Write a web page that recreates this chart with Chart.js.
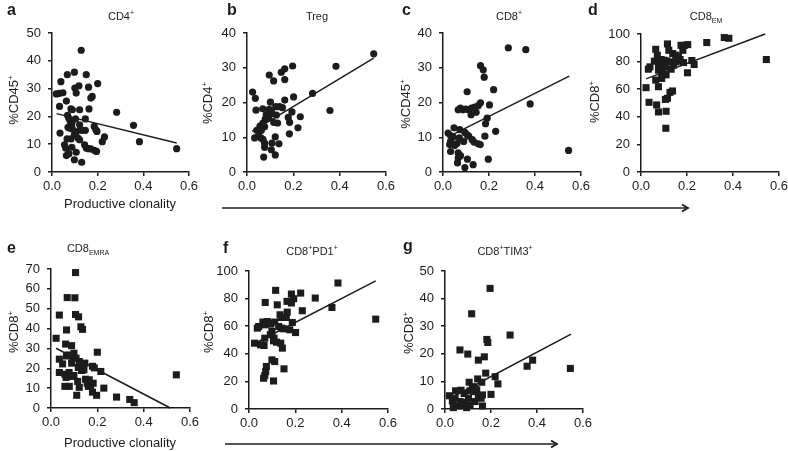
<!DOCTYPE html>
<html>
<head>
<meta charset="utf-8">
<script src="https://cdn.jsdelivr.net/npm/chart.js@4.4.1/dist/chart.umd.min.js"></script>
<style>
html, body { margin: 0; padding: 0; background: #fff; overflow: hidden; width: 788px; height: 451px; }
canvas { position: absolute; left: 0; top: 0; }
</style>
</head>
<body>
<canvas id="pa" width="800" height="451"></canvas>
<canvas id="pb" width="800" height="451"></canvas>
<canvas id="pc" width="800" height="451"></canvas>
<canvas id="pd" width="800" height="451"></canvas>
<canvas id="pe" width="800" height="451"></canvas>
<canvas id="pf" width="800" height="451"></canvas>
<canvas id="pg" width="800" height="451"></canvas>
<script>
// productive clonality tick labels, shared by every panel
const xTicks = [0, 0.2, 0.4, 0.6];

// a - CD4+ (%CD45+)
const aX = [0.128, 0.039, 0.019, 0.033, 0.048, 0.067, 0.098, 0.150, 0.118, 0.100, 0.200, 0.160, 0.176, 0.170, 0.106, 0.063,
  0.033, 0.083, 0.089, 0.121, 0.162, 0.283, 0.068, 0.073, 0.103, 0.146, 0.080, 0.087, 0.121, 0.070, 0.077, 0.089,
  0.185, 0.192, 0.357, 0.131, 0.146, 0.106, 0.124, 0.035, 0.098, 0.197, 0.066, 0.083, 0.114, 0.121, 0.230, 0.220,
  0.383, 0.055, 0.060, 0.143, 0.087, 0.150, 0.160, 0.170, 0.185, 0.195, 0.546, 0.074, 0.063, 0.106, 0.098, 0.130];
const aY = [43.8, 32.5, 28.1, 28.3, 28.5, 35.0, 35.9, 35.0, 31.0, 30.2, 31.8, 30.5, 27.2, 26.6, 28.4, 25.5,
  23.6, 22.7, 22.4, 22.4, 22.7, 21.5, 20.4, 19.4, 19.1, 19.1, 18.2, 17.4, 17.0, 16.1, 15.8, 15.5,
  16.4, 15.2, 16.8, 15.0, 15.0, 14.4, 15.2, 14.0, 13.4, 14.6, 11.9, 11.9, 12.2, 11.6, 12.6, 10.9,
  10.9, 9.8, 8.6, 9.8, 8.9, 8.6, 8.4, 8.3, 7.8, 7.4, 8.4, 6.6, 5.9, 7.1, 4.4, 3.5];
const aFitX = [0.02, 0.546];
const aFitY = [21.0, 10.4];
const aYTicks = [0, 10, 20, 30, 40, 50];

// b - Treg (%CD4+)
const bX = [0.547, 0.384, 0.197, 0.163, 0.148, 0.096, 0.163, 0.115, 0.283, 0.024, 0.036, 0.201, 0.163, 0.101, 0.124, 0.141,
  0.153, 0.039, 0.068, 0.096, 0.105, 0.358, 0.194, 0.083, 0.094, 0.108, 0.127, 0.079, 0.091, 0.178, 0.230, 0.115,
  0.132, 0.184, 0.056, 0.065, 0.076, 0.042, 0.062, 0.069, 0.220, 0.183, 0.050, 0.060, 0.069, 0.033, 0.122, 0.108,
  0.138, 0.076, 0.076, 0.105, 0.122, 0.072];
const bY = [34.0, 30.4, 30.5, 29.7, 28.7, 27.9, 26.6, 26.2, 22.6, 23.0, 21.2, 21.6, 20.7, 20.1, 18.8, 18.8,
  18.5, 17.8, 18.2, 18.0, 17.5, 17.7, 17.3, 16.5, 16.0, 16.8, 16.4, 15.3, 15.5, 15.7, 15.9, 14.3,
  14.1, 14.3, 13.2, 12.7, 13.0, 12.0, 12.0, 14.1, 12.7, 11.0, 10.3, 9.8, 9.4, 9.8, 10.1, 8.3,
  8.1, 8.3, 7.1, 6.4, 4.9, 4.3];
const bFitX = [0.022, 0.547];
const bFitY = [11.7, 32.8];
const bYTicks = [0, 10, 20, 30, 40];

// c - CD8+ (%CD45+)
const cX = [0.284, 0.360, 0.163, 0.175, 0.179, 0.105, 0.220, 0.379, 0.202, 0.066, 0.076, 0.087, 0.099, 0.112, 0.124, 0.138,
  0.153, 0.163, 0.122, 0.144, 0.192, 0.185, 0.048, 0.022, 0.073, 0.229, 0.095, 0.105, 0.112, 0.033, 0.044, 0.071,
  0.127, 0.135, 0.153, 0.090, 0.033, 0.029, 0.061, 0.051, 0.162, 0.182, 0.033, 0.066, 0.076, 0.066, 0.063, 0.106,
  0.197, 0.131, 0.095, 0.546];
const cY = [35.7, 35.2, 30.6, 29.4, 27.3, 23.1, 23.7, 19.6, 19.3, 17.9, 18.4, 17.9, 18.1, 17.9, 18.4, 18.7,
  19.1, 19.9, 16.5, 17.2, 15.5, 13.9, 12.7, 11.2, 12.2, 11.7, 11.4, 10.7, 10.3, 10.5, 10.1, 9.8,
  9.3, 8.6, 8.1, 8.8, 8.8, 7.9, 8.2, 7.6, 7.9, 10.3, 5.9, 5.5, 4.7, 4.0, 2.6, 3.7,
  3.7, 2.1, 1.3, 6.2];
const cFitX = [0.022, 0.549];
const cFitY = [10.1, 27.6];
const cYTicks = [0, 10, 20, 30, 40];

// d - CD8 EM (%CD8+)
const dX = [0.362, 0.382, 0.286, 0.189, 0.203, 0.174, 0.115, 0.064, 0.121, 0.138, 0.182, 0.071, 0.151, 0.163, 0.087, 0.100,
  0.112, 0.126, 0.221, 0.545, 0.185, 0.058, 0.076, 0.039, 0.032, 0.090, 0.105, 0.141, 0.153, 0.231, 0.131, 0.076,
  0.092, 0.202, 0.109, 0.090, 0.064, 0.022, 0.076, 0.137, 0.126, 0.115, 0.106, 0.035, 0.068, 0.076, 0.109, 0.108,
  0.155, 0.170];
const dY = [97.4, 96.9, 93.8, 91.8, 92.3, 91.8, 92.8, 88.9, 88.2, 85.8, 88.2, 84.6, 84.6, 83.4, 81.5, 81.0,
  80.5, 79.8, 80.8, 81.5, 79.3, 80.3, 78.6, 76.2, 74.5, 77.4, 76.2, 77.4, 79.8, 77.9, 74.5, 73.8,
  72.4, 71.9, 70.4, 67.8, 66.6, 61.1, 61.8, 58.7, 57.7, 53.4, 52.6, 50.5, 48.6, 43.5, 44.0, 31.7,
  81.0, 81.5];
const dFitX = [0.022, 0.54];
const dFitY = [67.5, 100];
const dYTicks = [0, 20, 40, 60, 80, 100];

// e - CD8 EMRA (%CD8+)
const eX = [0.106, 0.070, 0.103, 0.036, 0.106, 0.119, 0.129, 0.136, 0.067, 0.022, 0.063, 0.089, 0.200, 0.099, 0.075, 0.067,
  0.096, 0.108, 0.036, 0.122, 0.146, 0.139, 0.050, 0.089, 0.118, 0.179, 0.187, 0.036, 0.215, 0.060, 0.078, 0.132,
  0.142, 0.541, 0.099, 0.085, 0.065, 0.149, 0.165, 0.156, 0.115, 0.171, 0.161, 0.182, 0.060, 0.079, 0.122, 0.179,
  0.197, 0.228, 0.111, 0.283, 0.340, 0.359];
const eY = [68.2, 55.6, 55.5, 46.8, 47.1, 45.9, 40.9, 39.6, 39.3, 35.1, 32.2, 31.4, 28.1, 27.6, 26.7, 26.2,
  25.9, 25.1, 24.6, 23.4, 22.6, 22.1, 22.2, 22.6, 20.4, 21.0, 20.2, 17.9, 18.4, 17.0, 17.9, 18.9,
  19.2, 16.7, 16.4, 15.9, 15.4, 14.5, 14.2, 12.5, 13.4, 11.4, 10.9, 12.5, 10.9, 10.9, 10.4, 8.0,
  6.4, 10.0, 6.4, 5.5, 4.3, 2.7];
const eFitX = [0.022, 0.515];
const eFitY = [30.1, 0];
const eYTicks = [0, 10, 20, 30, 40, 50, 60, 70];

// f - CD8+PD1+ (%CD8+)
const fX = [0.384, 0.115, 0.223, 0.070, 0.183, 0.193, 0.183, 0.164, 0.286, 0.122, 0.230, 0.165, 0.161, 0.134, 0.140, 0.358,
  0.547, 0.060, 0.079, 0.089, 0.036, 0.042, 0.070, 0.094, 0.111, 0.187, 0.128, 0.140, 0.150, 0.176, 0.201, 0.099,
  0.092, 0.108, 0.068, 0.024, 0.050, 0.065, 0.106, 0.119, 0.137, 0.144, 0.099, 0.111, 0.151, 0.075, 0.072, 0.068,
  0.063, 0.106];
const fY = [91.3, 86.0, 84.0, 77.2, 83.3, 79.9, 76.8, 78.0, 80.4, 75.5, 71.2, 70.2, 66.3, 68.3, 66.3, 73.6,
  65.1, 63.0, 63.4, 62.2, 58.6, 59.8, 61.0, 61.5, 63.0, 62.7, 59.8, 58.6, 58.1, 57.4, 55.4, 56.2,
  53.8, 51.3, 51.3, 47.7, 46.5, 46.0, 49.4, 48.4, 47.7, 44.1, 35.6, 34.4, 29.1, 30.8, 27.1, 24.2,
  22.3, 20.3];
const fFitX = [0.022, 0.547];
const fFitY = [47.3, 92.8];
const fYTicks = [0, 20, 40, 60, 80, 100];

// g - CD8+TIM3+ (%CD8+)
const gX = [0.196, 0.116, 0.283, 0.182, 0.186, 0.065, 0.099, 0.171, 0.145, 0.381, 0.357, 0.545, 0.177, 0.218, 0.230, 0.142,
  0.160, 0.105, 0.200, 0.119, 0.131, 0.109, 0.126, 0.138, 0.019, 0.046, 0.070, 0.083, 0.032, 0.044, 0.065, 0.087,
  0.102, 0.145, 0.157, 0.163, 0.036, 0.058, 0.076, 0.094, 0.109, 0.163, 0.131];
const gY = [43.7, 34.5, 26.8, 25.2, 24.1, 21.4, 19.9, 18.9, 17.7, 17.7, 15.5, 14.7, 13.0, 11.7, 9.1, 10.9,
  9.7, 9.7, 5.3, 8.1, 7.5, 6.6, 6.3, 6.9, 4.8, 6.6, 6.8, 5.6, 2.9, 3.9, 2.7, 2.4,
  3.9, 4.5, 3.9, 5.1, 0.5, 1.1, 1.4, 0.5, 1.4, 1.1, 2.7];
const gFitX = [0.022, 0.548];
const gFitY = [3.9, 27.1];
const gYTicks = [0, 10, 20, 30, 40, 50];

const FONT = '"Liberation Sans", Arial, Helvetica, sans-serif';
const INK = '#1c1c1c';
const YW = 45;   // fixed y axis width
const XH = 25;   // fixed x axis height

function pts(xs, ys) {
  return xs.map((x, i) => ({ x: x, y: ys[i] }));
}

function segFont(size, mode) {
  return (mode ? Math.round(size * 0.65) : size) + 'px ' + FONT;
}

function richWidth(ctx, segs, size) {
  let w = 0;
  segs.forEach(s => { ctx.font = segFont(size, s[1]); w += ctx.measureText(s[0]).width; });
  return w;
}

function drawRich(ctx, segs, x, y, size) {
  let cx = x - richWidth(ctx, segs, size) / 2;
  segs.forEach(s => {
    ctx.font = segFont(size, s[1]);
    let dy = 0;
    if (s[1] === 'sup') dy = -size * 0.42;
    if (s[1] === 'sub') dy = size * 0.25;
    ctx.fillText(s[0], cx, y + dy);
    cx += ctx.measureText(s[0]).width;
  });
}

const annot = {
  id: 'annot',
  afterDraw(chart, args, o) {
    const ctx = chart.ctx;
    ctx.save();
    ctx.fillStyle = INK;
    ctx.strokeStyle = INK;
    ctx.textBaseline = 'alphabetic';
    ctx.textAlign = 'left';
    // panel letter
    ctx.font = 'bold 16px ' + FONT;
    ctx.fillText(o.letter, o.lx, o.ly);
    // title
    drawRich(ctx, o.title, o.tx, o.ty, 11);
    // y label
    ctx.save();
    ctx.translate(o.yx, o.yy);
    ctx.rotate(-Math.PI / 2);
    drawRich(ctx, o.ylab, 0, 0, 13);
    ctx.restore();
    // x label
    if (o.xlab) {
      drawRich(ctx, [['Productive clonality']], o.xlab[0], o.xlab[1], 13);
    }
    // arrow
    if (o.arrow) {
      const [x0, x1, y] = o.arrow;
      ctx.lineWidth = 1.6;
      ctx.beginPath();
      ctx.moveTo(x0, y);
      ctx.lineTo(x1 - 2, y);
      ctx.stroke();
      ctx.beginPath();
      ctx.moveTo(x1 - 6, y - 3.5);
      ctx.lineTo(x1, y);
      ctx.lineTo(x1 - 6, y + 3.5);
      ctx.lineWidth = 1.8;
      ctx.stroke();
    }
    ctx.restore();
  }
};

function makePanel(id, box, xs, ys, fitX, fitY, yTicks, shape, text) {
  const x0 = box[0], x1 = box[1], yT = box[2], yB = box[3];
  new Chart(document.getElementById(id), {
    type: 'scatter',
    data: {
      datasets: [
        {
          data: pts(xs, ys),
          pointStyle: shape,
          pointRadius: shape === 'rect' ? 5 : 3.6,
          backgroundColor: INK,
          borderWidth: 0,
          clip: false
        },
        {
          data: pts(fitX, fitY),
          showLine: true,
          borderColor: INK,
          borderWidth: 1.5,
          pointRadius: 0,
          clip: false
        }
      ]
    },
    options: {
      responsive: false,
      animation: false,
      devicePixelRatio: 1,
      events: [],
      layout: { padding: { left: x0 - YW, top: yT, right: 800 - x1, bottom: 451 - yB - XH } },
      plugins: { legend: { display: false }, tooltip: { enabled: false }, annot: text },
      scales: {
        x: {
          type: 'linear', min: 0, max: 0.6,
          afterFit: s => { s.height = XH; },
          afterBuildTicks: s => { s.ticks = xTicks.map(v => ({ value: v })); },
          border: { display: true, color: INK, width: 1.5 },
          grid: { drawOnChartArea: false, drawTicks: true, tickLength: 4, color: INK, lineWidth: 1.5 },
          ticks: { color: INK, font: { family: FONT, size: 13 }, padding: 3, maxRotation: 0, autoSkip: false,
                   callback: v => v.toFixed(1) }
        },
        y: {
          type: 'linear', min: 0, max: yTicks[yTicks.length - 1],
          afterFit: s => { s.width = YW; },
          afterBuildTicks: s => { s.ticks = yTicks.map(v => ({ value: v })); },
          border: { display: true, color: INK, width: 1.5 },
          grid: { drawOnChartArea: false, drawTicks: true, tickLength: 4, color: INK, lineWidth: 1.5 },
          ticks: { color: INK, font: { family: FONT, size: 13 }, padding: 7, autoSkip: false,
                   callback: v => String(v) }
        }
      }
    },
    plugins: [annot]
  });
}

const SUP = 'sup', SUB = 'sub';

makePanel('pa', [52, 189, 33, 172], aX, aY, aFitX, aFitY, aYTicks, 'circle', {
  letter: 'a', lx: 7, ly: 15, title: [['CD4'], ['+', SUP]], tx: 121, ty: 20,
  ylab: [['%CD45'], ['+', SUP]], yx: 18, yy: 100, xlab: [120, 208]
});
makePanel('pb', [247, 386, 33, 172], bX, bY, bFitX, bFitY, bYTicks, 'circle', {
  letter: 'b', lx: 227, ly: 15, title: [['Treg']], tx: 317, ty: 20,
  ylab: [['%CD4'], ['+', SUP]], yx: 212, yy: 103, arrow: [222, 688, 208]
});
makePanel('pc', [443, 581, 33, 172], cX, cY, cFitX, cFitY, cYTicks, 'circle', {
  letter: 'c', lx: 402, ly: 15, title: [['CD8'], ['+', SUP]], tx: 509, ty: 20,
  ylab: [['%CD45'], ['+', SUP]], yx: 410, yy: 104
});
makePanel('pd', [641, 779, 34, 172], dX, dY, dFitX, dFitY, dYTicks, 'rect', {
  letter: 'd', lx: 588, ly: 15, title: [['CD8'], ['EM', SUB]], tx: 706, ty: 20,
  ylab: [['%CD8'], ['+', SUP]], yx: 599, yy: 102
});
makePanel('pe', [51, 190, 269, 408], eX, eY, eFitX, eFitY, eYTicks, 'rect', {
  letter: 'e', lx: 7, ly: 253, title: [['CD8'], ['EMRA', SUB]], tx: 88, ty: 252,
  ylab: [['%CD8'], ['+', SUP]], yx: 18, yy: 332, xlab: [120, 447]
});
makePanel('pf', [249, 388, 271, 409], fX, fY, fFitX, fFitY, fYTicks, 'rect', {
  letter: 'f', lx: 223, ly: 253, title: [['CD8'], ['+', SUP], ['PD1'], ['+', SUP]], tx: 312, ty: 255,
  ylab: [['%CD8'], ['+', SUP]], yx: 213, yy: 332, arrow: [225, 557, 444]
});
makePanel('pg', [445, 583, 271, 409], gX, gY, gFitX, gFitY, gYTicks, 'rect', {
  letter: 'g', lx: 403, ly: 251, title: [['CD8'], ['+', SUP], ['TIM3'], ['+', SUP]], tx: 505, ty: 255,
  ylab: [['%CD8'], ['+', SUP]], yx: 413, yy: 333
});
</script>
</body>
</html>
